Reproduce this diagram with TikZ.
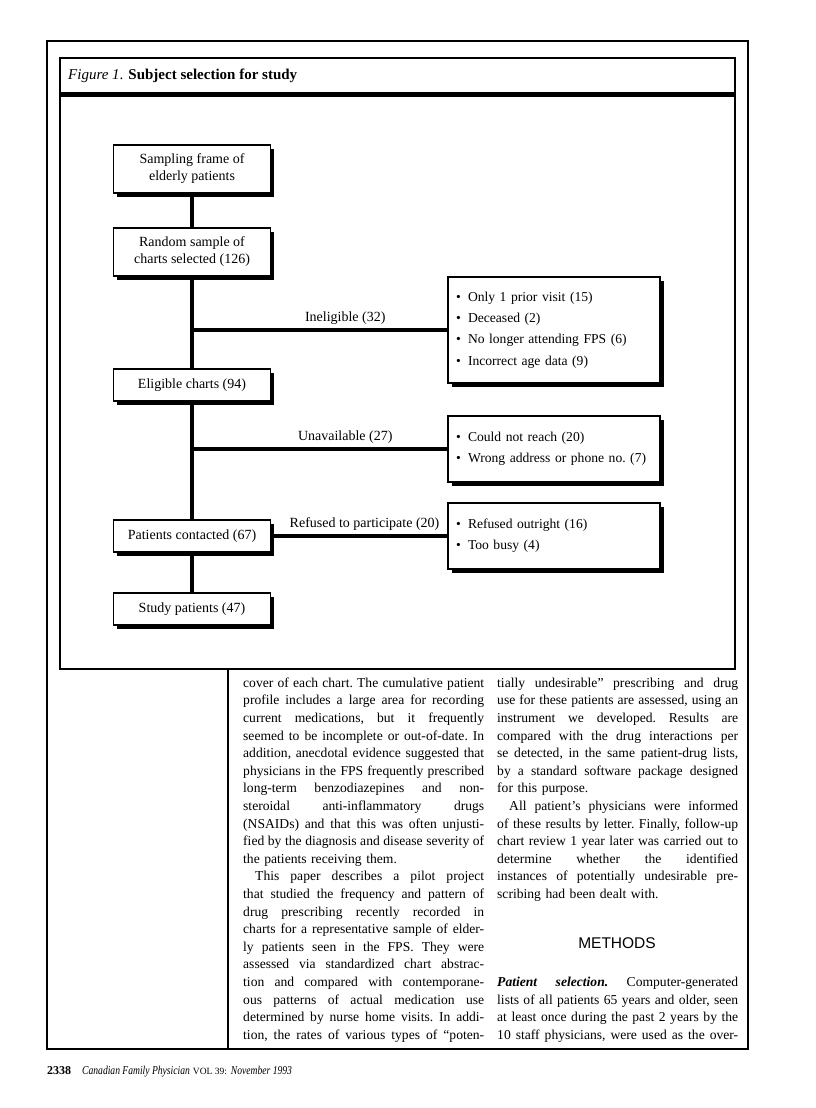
\documentclass[tikz,border=0pt]{standalone}
\usepackage{fontspec}
\usepackage{graphicx}
\setmainfont{Liberation Serif}
\newfontfamily\headsans{Liberation Sans}
\usetikzlibrary{shadows}

% Fonts of the page
\newcommand\figtext{\fontsize{14}{17}\selectfont\frenchspacing}
\newcommand\listtext{\fontsize{13.6}{21.3}\selectfont\frenchspacing}
\newcommand\bodytext{\fontsize{13.6}{17.6}\selectfont\frenchspacing}

% One justified or ragged line of a column
\newlength\colw \setlength\colw{241pt}
\newcommand\jline[1]{\noindent\hbox to\colw{\spaceskip=.25em plus .9em minus .1em\relax #1}\par}
\newcommand\lline[1]{\noindent\hbox to\colw{#1\hfil}\par}
\newcommand\itm[1]{\mbox{\makebox[12pt][l]{\textbullet}#1}}

\tikzset{
    stepbox/.style={draw, line width=1.2pt, fill=white, minimum width=157pt,
        align=center, inner sep=0pt, font=\figtext,
        drop shadow={shadow xshift=3.5pt, shadow yshift=-3.5pt, fill=black, opacity=1}},
    listbox/.style={draw, line width=1.2pt, fill=white, text width=196pt,
        inner xsep=8pt, inner ysep=0pt, align=left, font=\listtext,
        drop shadow={shadow xshift=3.5pt, shadow yshift=-3.5pt, fill=black, opacity=1}},
    trunk/.style={line width=4.5pt},
    branchlabel/.style={above=3pt, inner sep=0pt, font=\figtext},
    column/.style={anchor=north west, inner sep=0pt, text width=\colw, font=\bodytext}
}

\begin{document}
\begin{tikzpicture}[x=1pt, y=-1pt]

    \useasboundingbox (0,0) rectangle (816,1108);

    % Draw page frame and figure frame
    \draw[line width=1.3pt] (47,41) rectangle (748,1049);
    \draw[line width=1.3pt] (60,58) rectangle (735,669);
    \fill (60,92) rectangle (735,97);
    \draw[line width=1.2pt] (228,669) -- (228,1049);

    % Figure title
    \node[anchor=base west, inner sep=0pt] (title) at (68,79)
        {\fontsize{15}{18}\selectfont\textit{Figure 1}. \textbf{Subject selection for study}};

    % Main boxes
    \node[stepbox, minimum height=48pt] (frame) at (192,169) {Sampling frame of\\elderly patients};
    \node[stepbox, minimum height=48pt] (sample) at (192,252) {Random sample of\\charts selected (126)};
    \node[stepbox, minimum height=32pt] (elig) at (192,385) {Eligible charts (94)};
    \node[stepbox, minimum height=32pt] (contact) at (192,536) {Patients contacted (67)};
    \node[stepbox, minimum height=32pt] (study) at (192,609) {Study patients (47)};

    % Excluded boxes
    \node[listbox, minimum height=106pt] (inel) at (554,330)
        {\itm{Only 1 prior visit (15)}\\ \itm{Deceased (2)}\\ \itm{No longer attending FPS (6)}\\ \itm{Incorrect age data (9)}};
    \node[listbox, minimum height=66pt] (unav) at (554,449)
        {\itm{Could not reach (20)}\\ \itm{Wrong address or phone no. (7)}};
    \node[listbox, minimum height=66pt] (refu) at (554,536)
        {\itm{Refused outright (16)}\\ \itm{Too busy (4)}};

    % Connectors
    \foreach \a/\b in {frame/sample, sample/elig, elig/contact, contact/study} {
        \draw[trunk] (\a.south) -- (\b.north);
    }
    \draw[trunk] (inel.west) -- (inel.west -| elig.center) node[branchlabel, pos=0.4] {Ineligible (32)};
    \draw[trunk] (unav.west) -- (unav.west -| elig.center) node[branchlabel, pos=0.4] {Unavailable (27)};
    \draw[trunk] (contact.east) -- (refu.west) node[branchlabel, pos=0.53] {Refused to participate (20)};

    % Text columns
    \node[column] (colA) at (243,674.7) {%
        \jline{\strut cover of each chart. The cumulative patient}
        \jline{profile includes a large area for recording}
        \jline{current medications, but it frequently}
        \jline{seemed to be incomplete or out-of-date. In}
        \jline{addition, anecdotal evidence suggested that}
        \jline{physicians in the FPS frequently prescribed}
        \jline{long-term benzodiazepines and non-}
        \jline{steroidal anti-inflammatory drugs}
        \jline{(NSAIDs) and that this was often unjusti-}
        \jline{fied by the diagnosis and disease severity of}
        \lline{the patients receiving them.}
        \jline{\hspace*{12pt}This paper describes a pilot project}
        \jline{that studied the frequency and pattern of}
        \jline{drug prescribing recently recorded in}
        \jline{charts for a representative sample of elder-}
        \jline{ly patients seen in the FPS. They were}
        \jline{assessed via standardized chart abstrac-}
        \jline{tion and compared with contemporane-}
        \jline{ous patterns of actual medication use}
        \jline{determined by nurse home visits. In addi-}
        \jline{tion, the rates of various types of “poten-}};

    \node[column] (colB) at (497,674.7) {%
        \jline{\strut tially undesirable” prescribing and drug}
        \jline{use for these patients are assessed, using an}
        \jline{instrument we developed. Results are}
        \jline{compared with the drug interactions per}
        \jline{se detected, in the same patient-drug lists,}
        \jline{by a standard software package designed}
        \lline{for this purpose.}
        \jline{\hspace*{12pt}All patient’s physicians were informed}
        \jline{of these results by letter. Finally, follow-up}
        \jline{chart review 1 year later was carried out to}
        \jline{determine whether the identified}
        \jline{instances of potentially undesirable pre-}
        \lline{scribing had been dealt with.}};

    \node[anchor=base, inner sep=0pt, font=\headsans\fontsize{15.5}{18}\selectfont] (methods) at (617,948) {METHODS};

    \node[column] (colC) at (497,973.9) {%
        \jline{\strut\textbf{\textit{Patient selection.}} Computer-generated}
        \jline{lists of all patients 65 years and older, seen}
        \jline{at least once during the past 2 years by the}
        \jline{10 staff physicians, were used as the over-}};

    % Footer
    \node[anchor=base west, inner sep=0pt, font=\fontsize{12}{14}\selectfont] (folio) at (47,1074)
        {\textbf{2338}\hspace{11pt}\scalebox{0.8}[1]{\itshape Canadian Family Physician}
         {\fontsize{9.5}{12}\selectfont VOL 39:} \scalebox{0.8}[1]{\itshape November 1993}};

\end{tikzpicture}
\end{document}
